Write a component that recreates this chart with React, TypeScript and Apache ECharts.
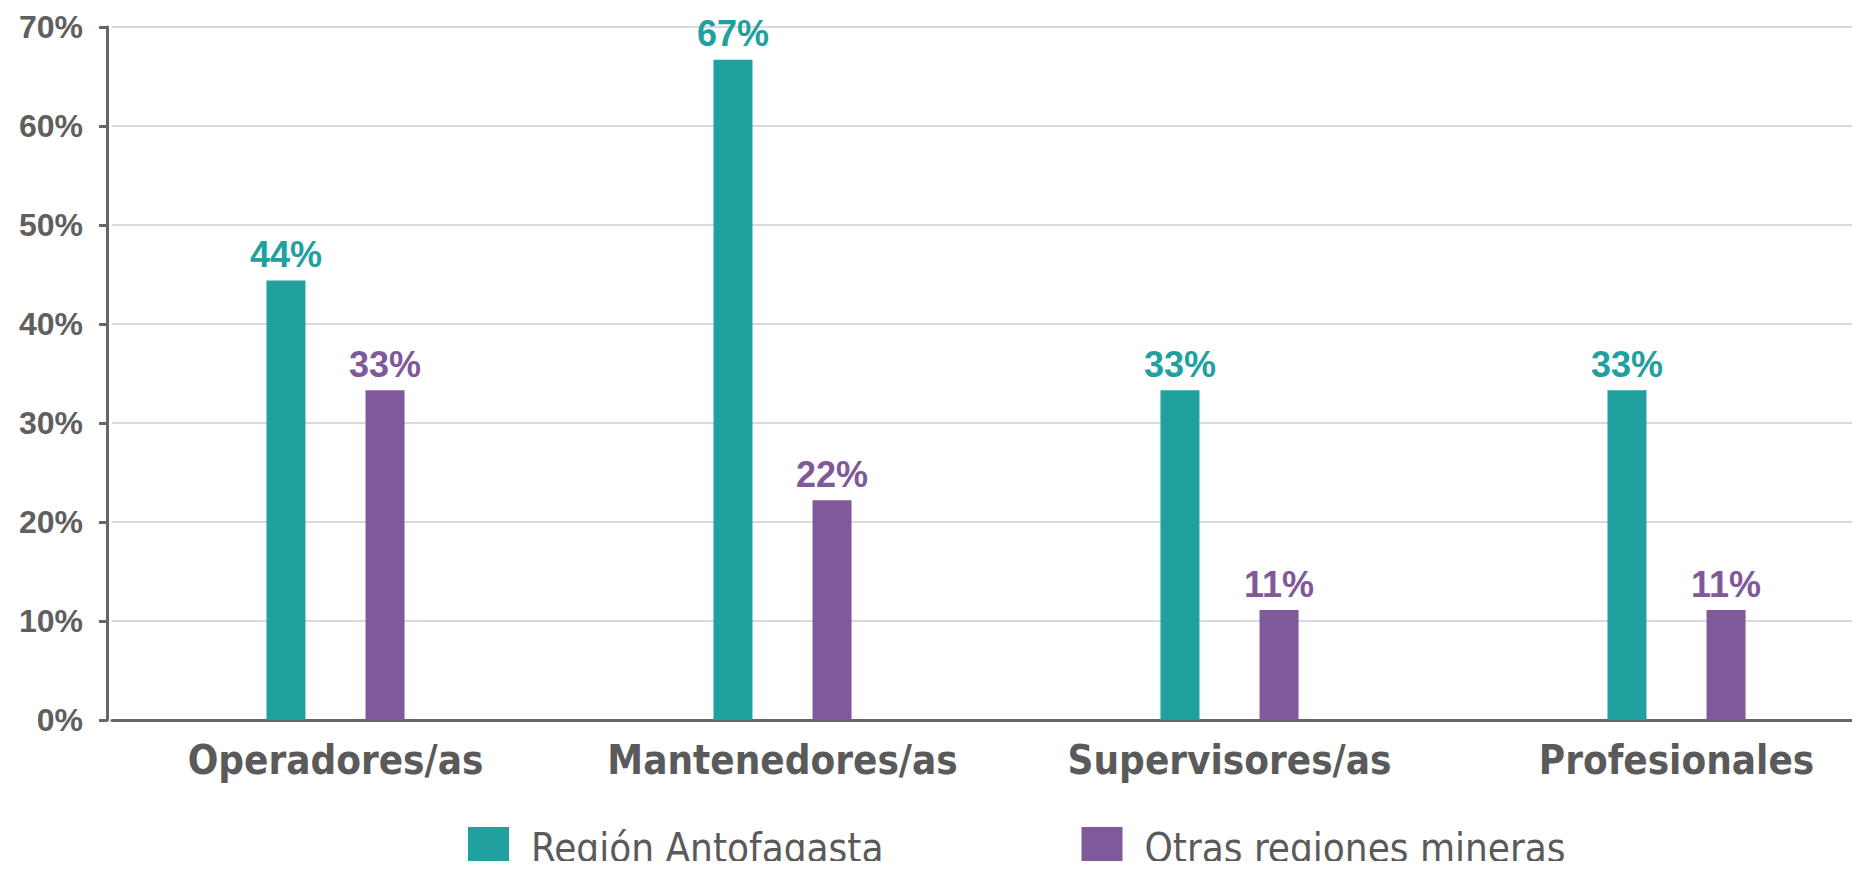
import React, { useEffect, useRef } from "react";
import * as echarts from "echarts";

const categories = ["Operadores/as", "Mantenedores/as", "Supervisores/as", "Profesionales"];
const seriesNames = ["Región Antofagasta", "Otras regiones mineras"];
const antofagasta = [44.4, 66.7, 33.3, 33.3];
const otras = [33.3, 22.2, 11.1, 11.1];
const colors = ["#21A0A0", "#80599A"];
const yTicks = [0, 70, 10]; // min, max, interval

const NARROW = "'Liberation Sans Narrow', 'DejaVu Sans Condensed', 'Arial Narrow', sans-serif";
const BOLD = "'Liberation Sans', Arial, sans-serif";

export default function App() {
  const ref = useRef<HTMLDivElement>(null);
  useEffect(() => {
    if (!ref.current) return;
    const chart = echarts.init(ref.current, undefined, { renderer: "svg" });
    const label = (color: string) => ({
      show: true,
      position: "top",
      distance: 8,
      color,
      fontFamily: BOLD,
      fontWeight: "bold",
      fontSize: 36,
      formatter: (p: any) => Math.round(p.value) + "%",
    });
    chart.setOption({
      animation: false,
      backgroundColor: "#ffffff",
      grid: {
        left: 112,
        top: 27,
        bottom: 149,
        width: 1788,
        containLabel: false,
        outerBoundsMode: "none",
      },
      legend: {
        data: seriesNames,
        top: 827,
        left: 468,
        padding: 0,
        itemWidth: 41,
        itemHeight: 41,
        itemGap: 198,
        icon: "rect",
        textStyle: {
          fontFamily: NARROW,
          fontSize: 40,
          color: "#5a5a5a",
          padding: [0, 0, 0, 17],
        },
      },
      xAxis: {
        type: "category",
        data: categories,
        axisLine: { lineStyle: { color: "#666666", width: 3 } },
        axisTick: { show: false },
        axisLabel: {
          interval: 0,
          margin: 20,
          fontFamily: NARROW,
          fontWeight: "bold",
          fontSize: 40,
          color: "#5a5a5a",
        },
      },
      yAxis: {
        type: "value",
        min: yTicks[0],
        max: yTicks[1],
        interval: yTicks[2],
        offset: 5,
        axisLine: { show: true, lineStyle: { color: "#666666", width: 3 } },
        axisTick: { show: true, length: 8, lineStyle: { color: "#666666", width: 3 } },
        splitLine: { lineStyle: { color: "#d9d9d9", width: 2 } },
        axisLabel: {
          margin: 24,
          formatter: "{value}%",
          fontFamily: BOLD,
          fontWeight: "bold",
          fontSize: 32,
          color: "#5f5f5f",
        },
      },
      series: [
        {
          name: seriesNames[0],
          type: "bar",
          data: antofagasta,
          barWidth: 39,
          barGap: "154%",
          itemStyle: { color: colors[0] },
          label: label(colors[0]),
        },
        {
          name: seriesNames[1],
          type: "bar",
          data: otras,
          barWidth: 39,
          itemStyle: { color: colors[1] },
          label: label(colors[1]),
        },
      ],
    });
    return () => chart.dispose();
  }, []);
  return <div ref={ref} style={{ width: 1860, height: 869, margin: -8 }} />;
}
